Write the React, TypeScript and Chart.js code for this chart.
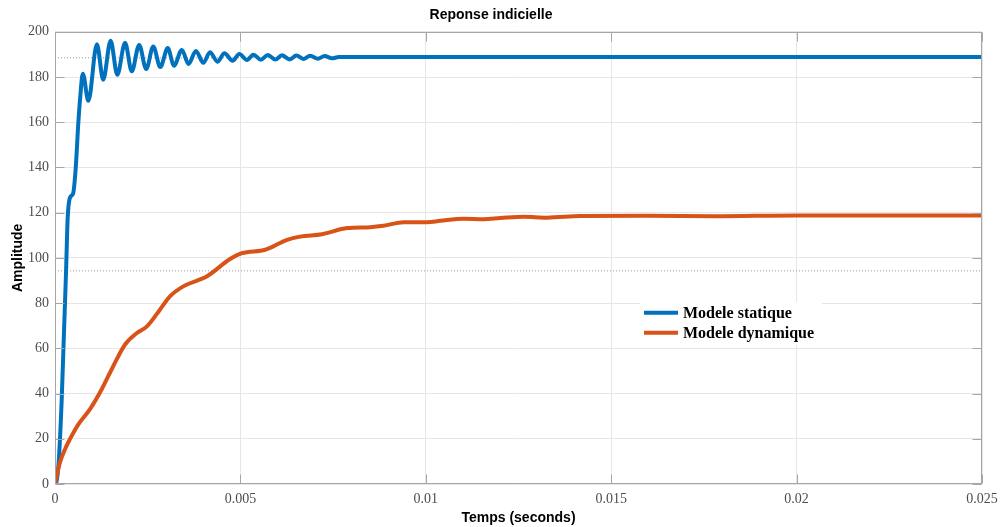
import React, { useEffect, useRef } from "react";
import { Chart, registerables } from "chart.js";

Chart.register(...registerables);

const chartTitle = "Reponse indicielle";
const xAxisTitle = "Temps (seconds)";
const yAxisTitle = "Amplitude";
const seriesNames = ["Modele statique", "Modele dynamique"];
const seriesColors = ["#0072BD", "#D95319"];

const xTickValues = [0, 0.005, 0.01, 0.015, 0.02, 0.025];
const xTickLabels = ["0", "0.005", "0.01", "0.015", "0.02", "0.025"];
const yTickValues = [0, 20, 40, 60, 80, 100, 120, 140, 160, 180, 200];
const yTickLabels = ["0", "20", "40", "60", "80", "100", "120", "140", "160", "180", "200"];

const staticTimes = [
  0, 0.00004, 0.0001, 0.00018, 0.00024, 0.0003, 0.00034, 0.0004, 0.00049, 0.00056,
  0.00063, 0.00068, 0.00075, 0.0009, 0.00113, 0.0013, 0.0015, 0.00168, 0.00189, 0.00207,
  0.00227, 0.00246, 0.00265, 0.00284, 0.00304, 0.00321, 0.00342, 0.0036, 0.0038, 0.004,
  0.00418, 0.00438, 0.00457, 0.00479, 0.00497, 0.00518, 0.00535, 0.00555, 0.00574, 0.00594,
  0.00612, 0.00633, 0.00651, 0.0067, 0.00688, 0.00709, 0.00727, 0.00747, 0.00765, 0.025,
];
const staticValues = [
  0, 1, 10, 37, 66, 95, 117, 126.5, 128.5, 140,
  160, 171, 181.5, 169.5, 194.5, 178.8, 196, 181, 195.2, 182.5,
  194.2, 183.5, 193.5, 184.4, 192.8, 185, 192, 185.8, 191.5, 186.3,
  191, 186.8, 190.5, 187.2, 190.2, 187.5, 189.9, 187.6, 189.7, 187.7,
  189.6, 187.8, 189.5, 188, 189.4, 188.1, 189.3, 188.3, 188.8, 188.8,
];

const dynamicTimes = [
  0, 0.000135, 0.00027, 0.00045, 0.00063, 0.00094, 0.00126, 0.00157, 0.00189, 0.00221,
  0.00248, 0.00283, 0.0031, 0.00346, 0.0041, 0.00472, 0.00504, 0.00567, 0.00626, 0.00661,
  0.0072, 0.00788, 0.0085, 0.00886, 0.0094, 0.01004, 0.01039, 0.01102, 0.01156, 0.01201,
  0.01264, 0.01327, 0.01417, 0.01597, 0.01777, 0.02002, 0.025,
];
const dynamicValues = [
  0, 9.6, 15.4, 21.3, 26.4, 33, 41.9, 52.1, 61.7, 66.8,
  69.7, 77.1, 83, 87.4, 91.9, 99.5, 102.1, 103.6, 108, 109.4,
  110.5, 113.2, 113.6, 114.2, 115.8, 115.8, 116.4, 117.3, 117.1, 117.6,
  118.2, 117.8, 118.5, 118.6, 118.4, 118.8, 118.8,
];

const referenceLevels = [188.5, 94.25];
const timeRange = [0, 0.025];
const amplitudeRange = [0, 200];

const boxPlugin = {
  id: "matlabBox",
  afterDatasetsDraw(chart: any) {
    const { ctx, chartArea: ca, scales } = chart;
    const l = Math.round(ca.left) + 0.5;
    const r = Math.round(ca.right) - 0.5;
    const t = Math.round(ca.top) + 0.5;
    const b = Math.round(ca.bottom) - 0.5;
    ctx.save();
    ctx.strokeStyle = "#a6a6a6";
    ctx.lineWidth = 1;
    ctx.beginPath();
    xTickValues.forEach((v) => {
      const px = Math.round(scales.x.getPixelForValue(v)) + 0.5;
      ctx.moveTo(px, b);
      ctx.lineTo(px, b - 9);
      ctx.moveTo(px, t);
      ctx.lineTo(px, t + 9);
    });
    yTickValues.forEach((v) => {
      const py = Math.round(scales.y.getPixelForValue(v)) + 0.5;
      ctx.moveTo(l, py);
      ctx.lineTo(l + 9, py);
      ctx.moveTo(r, py);
      ctx.lineTo(r - 9, py);
    });
    ctx.stroke();
    ctx.strokeRect(l, t, r - l, b - t);
    ctx.restore();
  },
};

const legendPlugin = {
  id: "insideLegend",
  afterDraw(chart: any) {
    const { ctx, chartArea: ca } = chart;
    const x0 = ca.left + 585;
    const y0 = ca.top + 270;
    ctx.save();
    ctx.fillStyle = "#ffffff";
    ctx.fillRect(x0, y0, 182, 43);
    ctx.font = 'bold 16px "Liberation Serif", "Times New Roman", serif';
    ctx.textBaseline = "middle";
    ctx.textAlign = "left";
    seriesNames.forEach((name, i) => {
      const y = y0 + 11 + i * 20;
      ctx.strokeStyle = seriesColors[i];
      ctx.lineWidth = 4;
      ctx.beginPath();
      ctx.moveTo(x0 + 4, y);
      ctx.lineTo(x0 + 38, y);
      ctx.stroke();
      ctx.fillStyle = "#000000";
      ctx.fillText(name, x0 + 43, y + 1);
    });
    ctx.restore();
  },
};

export default function App() {
  const canvasRef = useRef<HTMLCanvasElement | null>(null);

  useEffect(() => {
    if (!canvasRef.current) return;
    const tickFont = { family: '"Liberation Serif", "Times New Roman", serif', size: 14 };
    const titleFont = { family: '"Liberation Sans", Arial, sans-serif', size: 14, weight: "bold" as const };

    const chart = new Chart(canvasRef.current, {
      type: "line",
      data: {
        datasets: [
          {
            label: seriesNames[0],
            data: staticTimes.map((t, i) => ({ x: t, y: staticValues[i] })),
            borderColor: seriesColors[0],
            borderWidth: 4,
            pointRadius: 0,
            cubicInterpolationMode: "monotone",
            fill: false,
            order: 1,
          },
          {
            label: seriesNames[1],
            data: dynamicTimes.map((t, i) => ({ x: t, y: dynamicValues[i] })),
            borderColor: seriesColors[1],
            borderWidth: 4,
            pointRadius: 0,
            cubicInterpolationMode: "monotone",
            fill: false,
            order: 0,
          },
          ...referenceLevels.map((lvl) => ({
            label: "ref",
            data: [
              { x: timeRange[0], y: lvl },
              { x: timeRange[1], y: lvl },
            ],
            borderColor: "#9a9a9a",
            borderWidth: 1,
            borderDash: [1, 2],
            pointRadius: 0,
            fill: false,
            order: 5,
          })),
        ],
      },
      options: {
        animation: false,
        responsive: false,
        devicePixelRatio: 1,
        layout: { padding: { left: 0, right: 18, top: 0, bottom: 0 } },
        plugins: {
          legend: { display: false },
          tooltip: { enabled: false },
          title: {
            display: true,
            text: chartTitle,
            color: "#000000",
            font: titleFont,
            padding: { top: 7, bottom: 8 },
          },
        },
        scales: {
          x: {
            type: "linear",
            min: timeRange[0],
            max: timeRange[1],
            afterBuildTicks: (scale: any) => {
              scale.ticks = xTickValues.map((v) => ({ value: v }));
            },
            afterFit: (scale: any) => {
              scale.height = 43;
              scale.paddingLeft = 0;
              scale.paddingRight = 0;
            },
            ticks: {
              font: tickFont,
              color: "#4d4d4d",
              padding: 7,
              maxRotation: 0,
              callback: (_v: any, i: number) => xTickLabels[i],
            },
            grid: { color: "#e6e6e6", drawTicks: false },
            border: { display: false },
            title: {
              display: true,
              text: xAxisTitle,
              color: "#000000",
              font: titleFont,
              padding: { top: 0, bottom: 0 },
            },
          },
          y: {
            type: "linear",
            min: amplitudeRange[0],
            max: amplitudeRange[1],
            afterBuildTicks: (scale: any) => {
              scale.ticks = yTickValues.map((v) => ({ value: v }));
            },
            afterFit: (scale: any) => {
              scale.width = 55;
              scale.paddingTop = 0;
              scale.paddingBottom = 0;
            },
            ticks: {
              font: tickFont,
              color: "#4d4d4d",
              padding: 6,
              callback: (_v: any, i: number) => yTickLabels[i],
            },
            grid: { color: "#e6e6e6", drawTicks: false },
            border: { display: false },
            title: {
              display: true,
              text: yAxisTitle,
              color: "#000000",
              font: titleFont,
              padding: { top: 10, bottom: 0 },
            },
          },
        },
      },
      plugins: [boxPlugin, legendPlugin],
    });

    return () => chart.destroy();
  }, []);

  return (
    <div style={{ position: "fixed", left: 0, top: 0, width: 1000, height: 527, background: "#ffffff" }}>
      <canvas ref={canvasRef} width={1000} height={527} />
    </div>
  );
}
